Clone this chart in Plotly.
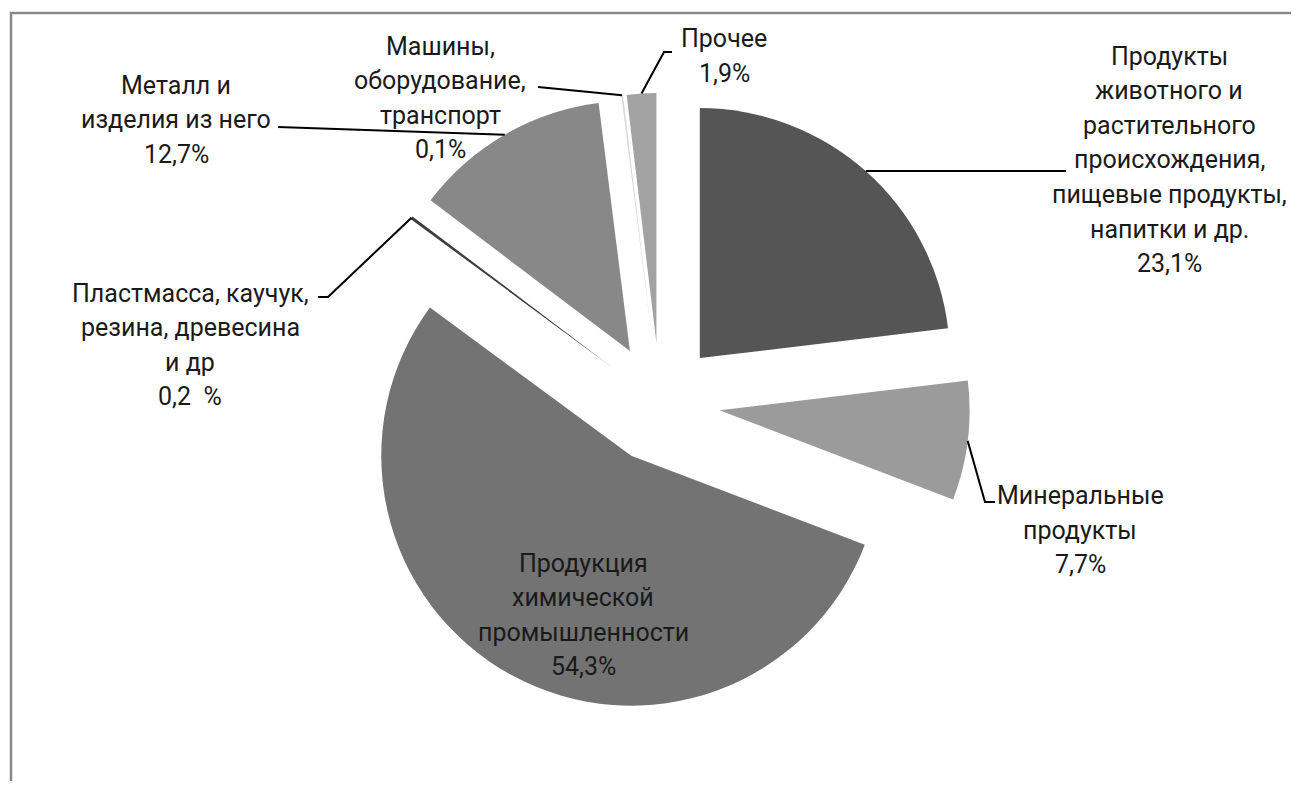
import math
import plotly.graph_objects as go

# ---- data ----
categories = [
    "Продукты животного и растительного происхождения, пищевые продукты, напитки и др.",
    "Минеральные продукты",
    "Продукция химической промышленности",
    "Пластмасса, каучук, резина, древесина и др",
    "Металл и изделия из него",
    "Машины, оборудование, транспорт",
    "Прочее",
]
values = [23.1, 7.7, 54.3, 0.2, 12.7, 0.1, 1.9]
label_lines = [
    ["Продукты", "животного и", "растительного", "происхождения,", "пищевые продукты,", "напитки и др.", "23,1%"],
    ["Минеральные", "продукты", "7,7%"],
    ["Продукция", "химической", "промышленности", "54,3%"],
    ["Пластмасса, каучук,", "резина, древесина", "и др", "0,2\u00a0 %"],
    ["Металл и", "изделия из него", "12,7%"],
    ["Машины,", "оборудование,", "транспорт", "0,1%"],
    ["Прочее", "1,9%"],
]
colors = ["#555555", "#9b9b9b", "#737373", "#3c3c3c", "#888888", "#d6d6d6", "#a2a2a2"]

# ---- layout geometry (pixels in the browser window) ----
OFF = 8            # body margin of the page
W, H = 1283, 773   # figure size
CX, CY = 660, 403  # pie centre in window px
PULL = 0.24
BOX = 310          # half size of pie box -> radius = BOX/(1+PULL)
R = BOX / (1 + PULL)
LINE_SP = 34.5
FONT = dict(family="Roboto", size=25, color="#1a1a1a")


def paper(x, y):
    return (x - OFF) / W, 1 - (y - OFF) / H


x0, y1 = paper(CX - BOX, CY - BOX)
x1, y0 = paper(CX + BOX, CY + BOX)

fig = go.Figure(go.Pie(
    labels=categories,
    values=values,
    sort=False,
    direction="clockwise",
    rotation=0,
    pull=[PULL] * len(values),
    marker=dict(colors=colors, line=dict(width=0)),
    textinfo="none",
    hoverinfo="label+percent",
    domain=dict(x=[x0, x1], y=[y0, y1]),
    showlegend=False,
))

# arc anchor points (bisector of each slice on pulled outer arc)
total = sum(values)
anchors = []
cum = 0
for v in values:
    mid = (cum + v / 2) / total * 2 * math.pi
    cum += v
    rr = R * (1 + PULL)
    anchors.append((CX + rr * math.sin(mid), CY - rr * math.cos(mid)))

# label block centres and leader routes (window px)
label_pos = [(1169, 160), (1080, 530), (583, 615), (190, 345), (176, 120), (440, 98), (724, 56)]
leader_routes = [
    [(1066, 171)],
    [(985, 502), (995, 502)],
    None,
    [(328, 297), (318, 297)],
    [(278, 127)],
    [(538, 87)],
    [(664, 52), (672, 52)],
]

annotations = []
for lines, (lx, ly) in zip(label_lines, label_pos):
    n = len(lines)
    for i, ln in enumerate(lines):
        yy = ly + (i - (n - 1) / 2) * LINE_SP
        px, py = paper(lx, yy)
        annotations.append(dict(
            x=px, y=py, xref="paper", yref="paper", text=ln, showarrow=False,
            xanchor="center", yanchor="middle", align="center", font=FONT,
        ))

shapes = []
for anc, route in zip(anchors, leader_routes):
    if route is None:
        continue
    pts = [anc] + route
    pp = [paper(*p) for p in pts]
    path = "M " + " L ".join(f"{a:.5f},{b:.5f}" for a, b in pp)
    shapes.append(dict(type="path", path=path, xref="paper", yref="paper",
                       line=dict(color="#000000", width=2)))

# chart frame (extends past the window on right and bottom)
fx0, fy0 = paper(11, 13)
fx1, fy1 = paper(1400, 900)
shapes.append(dict(type="rect", xref="paper", yref="paper", x0=fx0, y0=fy1, x1=fx1, y1=fy0,
                   line=dict(color="#888888", width=2.5), layer="below"))

fig.update_layout(
    width=W, height=H,
    margin=dict(l=0, r=0, t=0, b=0),
    paper_bgcolor="white",
    plot_bgcolor="white",
    annotations=annotations,
    shapes=shapes,
)

fig.write_html("out.html")
